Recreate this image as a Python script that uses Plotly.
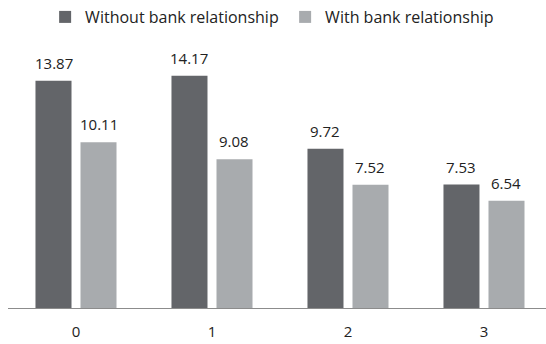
import plotly.graph_objects as go

categories = ["0", "1", "2", "3"]
without_rel = [13.87, 14.17, 9.72, 7.53]
with_rel = [10.11, 9.08, 7.52, 6.54]
labels_without = ["13.87", "14.17", "9.72", "7.53"]
labels_with = ["10.11", "9.08", "7.52", "6.54"]

font = "Open Sans"
txt = "#222222"

fig = go.Figure()
fig.add_trace(go.Bar(
    x=categories, y=without_rel, name="Without bank relationship",
    marker=dict(color="#636569", line=dict(width=0)),
))
fig.add_trace(go.Bar(
    x=categories, y=with_rel, name="With bank relationship",
    marker=dict(color="#a8abae", line=dict(width=0)),
))

# value labels above bars (offset to each bar's slot within the group)
for series, labels, shift in ((without_rel, labels_without, -22.5), (with_rel, labels_with, 22.5)):
    for c, v, lab in zip(categories, series, labels):
        fig.add_annotation(x=c, y=v, text=lab, showarrow=False, xref="x", yref="y",
                           xshift=shift, yshift=6, yanchor="bottom", xanchor="center",
                           font=dict(family=font, size=15, color=txt))

fig.update_layout(
    width=546, height=344,
    margin=dict(l=8, r=0, t=40, b=36, autoexpand=False),
    paper_bgcolor="white", plot_bgcolor="white",
    barmode="group", bargap=0.338, bargroupgap=0.2,
    font=dict(family=font, size=15, color=txt),
    showlegend=True,
    legend=dict(orientation="h", x=0.069, xanchor="left", y=1.0, yanchor="top",
                yref="container", entrywidth=195,
                font=dict(family=font, size=16, color=txt),
                itemwidth=30, traceorder="normal"),
    xaxis=dict(range=[-0.5, 3.456], showline=True, linecolor="#8c8c8c", linewidth=1,
               ticks="", showgrid=False, zeroline=False, ticklabelstandoff=10,
               tickfont=dict(family=font, size=15, color=txt)),
    yaxis=dict(range=[0, 16.35], visible=False, showgrid=False, zeroline=False),
)

fig.write_html("out.html")
